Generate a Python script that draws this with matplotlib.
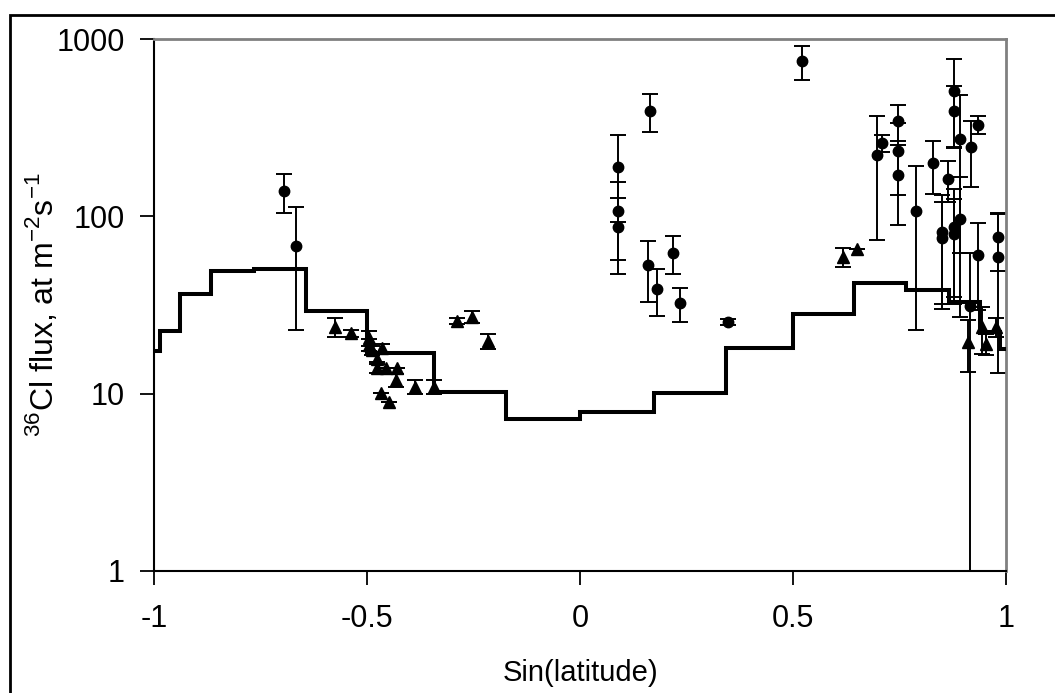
import numpy as np
import matplotlib
matplotlib.use('Agg')
import matplotlib.pyplot as plt
from matplotlib.patches import Rectangle
from matplotlib.ticker import FixedLocator, FixedFormatter, NullLocator

plt.rcParams['font.family'] = ['Liberation Sans', 'DejaVu Sans']
plt.rcParams['font.size'] = 22

# model flux in 10 degree latitude bands (edges as sin(latitude))
band_edges = [-1.0, -0.985, -0.94, -0.866, -0.766, -0.643, -0.5, -0.342, -0.174, 0.0,
              0.174, 0.342, 0.5, 0.643, 0.766, 0.866, 0.94, 0.985, 1.0]
band_flux = [17.4, 22.6, 36.6, 49.2, 50.5, 29.2, 16.9, 10.2, 7.2,
             7.9, 10.1, 18.1, 28.1, 42.2, 38.5, 32.8, 22.3, 17.8]

# measurements (circles)
circ_x = [-0.695, -0.667, 0.089, 0.089, 0.089, 0.164, 0.160, 0.181, 0.218, 0.235,
          0.347, 0.521, 0.697, 0.709, 0.747, 0.747, 0.747, 0.789, 0.829, 0.864,
          0.850, 0.850, 0.878, 0.878, 0.892, 0.918, 0.934, 0.892, 0.878, 0.878,
          0.934, 0.915, 0.981, 0.981]
circ_y = [139, 68, 190, 107, 87, 393, 53, 39, 62, 32.5,
          25.4, 750, 222, 259, 345, 234, 171, 107, 200, 163,
          82, 75, 510, 393, 273, 246, 328, 97, 87, 80,
          60.6, 31.2, 76, 59]
circ_err = [34, 45, 97, 50, 40, 95, 20, 11.5, 15, 7,
            1, 160, 148, 28, 80, 102, 82, 84, 67, 42,
            50, 45, 263, 151, 211, 100, 38, 70, 55, 45,
            31, 30.8, 27, 46]

# measurements (triangles)
tri_x = [-0.575, -0.538, -0.495, -0.495, -0.488, -0.465, -0.477, -0.477, -0.455, -0.430,
         -0.432, -0.467, -0.448, -0.387, -0.343, -0.289, -0.254, -0.216,
         0.617, 0.650, 0.911, 0.944, 0.953, 0.977]
tri_y = [23.8, 22, 20.6, 18.8, 17.6, 18.1, 15.7, 14.0, 14.0, 14.0,
         11.9, 10.1, 9.0, 10.9, 10.9, 25.7, 27.1, 19.8,
         59, 65.5, 19.6, 23.8, 19.1, 23.8]
tri_err = [3, 1, 2, 1.5, 1, 1, 1, 1, 0, 0,
           1, 0, 0, 1, 1, 1, 2, 2,
           7.5, 0, 6.3, 7, 2.5, 3]

fig = plt.figure(figsize=(10.55, 6.93), dpi=100)
ax = fig.add_axes([154/1055, 1-571/693, (1006-154)/1055, (571-39)/693])

ax.errorbar(circ_x, circ_y, yerr=circ_err, fmt='o', color='k', ms=7.5,
            ecolor='k', elinewidth=1.4, capsize=6, capthick=1.4)
ax.errorbar(tri_x, tri_y, yerr=tri_err, fmt='^', color='k', ms=8.5,
            ecolor='k', elinewidth=1.4, capsize=6, capthick=1.4)
ax.stairs(band_flux, band_edges, baseline=None, color='k', lw=2.9, zorder=3)

ax.set_yscale('log')
ax.set_ylim(1, 1000)
ax.set_xlim(-1, 1)
ax.yaxis.set_major_locator(FixedLocator([1, 10, 100, 1000]))
ax.yaxis.set_major_formatter(FixedFormatter(['1', '10', '100', '1000']))
ax.yaxis.set_minor_locator(NullLocator())
ax.set_xticks([-1, -0.5, 0, 0.5, 1])
ax.set_xticklabels(['-1', '-0.5', '0', '0.5', '1'])
ax.tick_params(axis='y', length=10, width=1.3, pad=11)
ax.tick_params(axis='x', length=10, width=1.3, pad=14)

for s in ['left', 'bottom']:
    ax.spines[s].set_color('k')
    ax.spines[s].set_linewidth(1.5)
for s in ['top', 'right']:
    ax.spines[s].set_color('#808080')
    ax.spines[s].set_linewidth(2)

ax.set_xlabel('Sin(latitude)', fontsize=21)
ax.set_ylabel(r'$^{\mathregular{36}}$Cl flux, at m$^{\mathregular{-2}}$s$^{\mathregular{-1}}$',
              fontsize=23)
ax.xaxis.set_label_coords(0.5, -0.165)
ax.yaxis.set_label_coords(-0.11, 0.5)

# outer chart frame
fig.patches.append(Rectangle((10/1055, -0.2), 1.2, 1.2 - 15/693, transform=fig.transFigure,
                             fill=False, edgecolor='k', lw=2))

fig.savefig('out.png', dpi=100)
